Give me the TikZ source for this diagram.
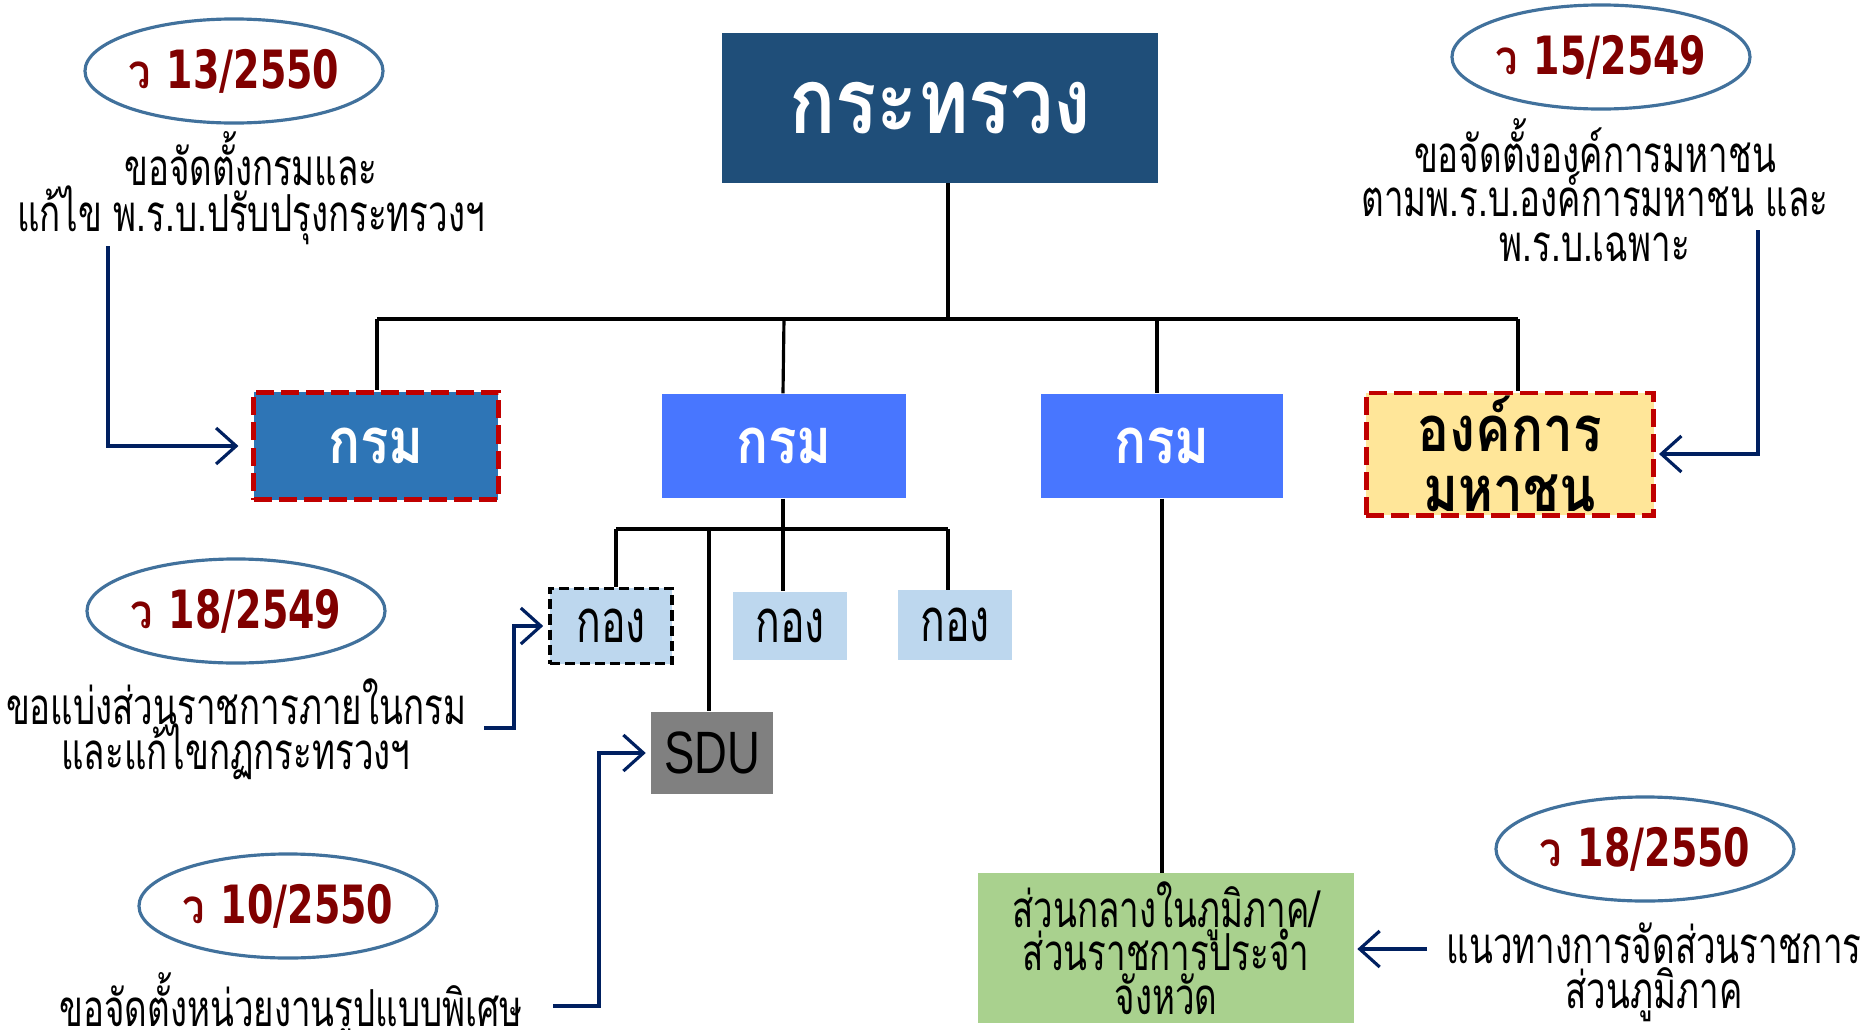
\documentclass[tikz,border=0pt]{standalone}
\usepackage{fontspec}
\usetikzlibrary{arrows.meta,shapes.geometric}
\newfontfamily\thaigras[Script=Thai,FakeStretch=0.84]{Loma}
\newfontfamily\thaicond[Script=Thai,FakeStretch=0.685]{Loma}
\newfontfamily\chiffres[FakeStretch=0.72]{DejaVu Sans}
\newfontfamily\etroit[FakeStretch=0.76]{Liberation Sans}
\definecolor{bleuMin}{RGB}{31,78,121}
\definecolor{bleuGris}{RGB}{46,117,182}
\definecolor{bleuVif}{RGB}{72,118,255}
\definecolor{jaune}{RGB}{255,230,153}
\definecolor{rougeT}{RGB}{192,0,0}
\definecolor{bleuPale}{RGB}{189,215,238}
\definecolor{vert}{RGB}{169,209,142}
\definecolor{gris}{RGB}{128,128,128}
\definecolor{bordOvale}{RGB}{65,113,156}
\definecolor{rougeFonce}{RGB}{128,0,0}
\definecolor{marine}{RGB}{0,32,96}
\newcommand{\circulaire}[1]{{\thaigras\bfseries\fontsize{13.5}{15}\selectfont ว} {\chiffres\bfseries #1}}
\begin{document}
\begin{tikzpicture}[x=0.01cm,y=-0.01cm]
\tikzset{boite/.style={rectangle, inner sep=0pt, align=center, text=white, font={\thaigras\bfseries\fontsize{18}{17}\selectfont\lineskiplimit=-50pt}},
	pointille/.style={draw=rougeT, line width=1.4pt, dash pattern=on 1.8mm off 0.7mm},
	kong/.style={rectangle, fill=bleuPale, inner sep=0pt, font={\thaicond\fontsize{17}{18}\selectfont}},
	ovale/.style={ellipse, draw=bordOvale, line width=0.9pt, minimum width=2.56cm, minimum height=1.04cm, inner sep=0pt, text=rougeFonce, font={\fontsize{15}{16}\selectfont}},
	texte/.style={align=center, inner sep=0pt, font={\thaicond\fontsize{14.5}{12.7}\selectfont\lineskiplimit=-50pt}},
	trait/.style={line width=0.9pt},
	fleche/.style={draw=marine, line width=0.9pt, -{Straight Barb[length=2mm,width=3.6mm]}}};
\useasboundingbox (0,0) rectangle (1865,1030);

% boites
\node[boite, fill=bleuMin, minimum width=4.35cm, minimum height=1.49cm, font={\thaigras\bfseries\fontsize{26}{30}\selectfont}] (min) at (940,108) {กระทรวง};
\node[boite, fill=bleuGris, pointille, minimum width=2.44cm, minimum height=1.07cm] (k1) at (376,446) {กรม};
\node[boite, fill=bleuVif, minimum width=2.44cm, minimum height=1.04cm] (k2) at (784,446) {กรม};
\node[boite, fill=bleuVif, minimum width=2.42cm, minimum height=1.04cm] (k3) at (1162,446) {กรม};
\node[boite, fill=jaune, pointille, text=black, minimum width=2.87cm, minimum height=1.22cm] (org) at (1510,454) {องค์การ\\มหาชน};
\node[kong, draw=black, line width=1pt, dash pattern=on 1mm off 0.5mm, minimum width=1.22cm, minimum height=0.75cm] (g1) at (611,626) {กอง};
\node[kong, minimum width=1.13cm, minimum height=0.68cm] (g2) at (790,626) {กอง};
\node[kong, minimum width=1.14cm, minimum height=0.69cm] (g3) at (955,625) {กอง};
\node[rectangle, fill=gris, minimum width=1.21cm, minimum height=0.82cm, font={\etroit\fontsize{17}{20}\selectfont}] (sdu) at (712,753) {SDU};
\node[rectangle, fill=vert, minimum width=3.75cm, minimum height=1.49cm, align=center, inner sep=0pt, font={\thaicond\fontsize{14.5}{12.4}\selectfont\lineskiplimit=-50pt}] (reg) at (1166,948) {ส่วนกลางในภูมิภาค/\\ส่วนราชการประจำ\\จังหวัด};

% ovales et textes
\node[ovale] (v1) at (234,71) {\circulaire{13/2550}};
\node[texte, font={\thaicond\fontsize{14.5}{13.2}\selectfont\lineskiplimit=-50pt}] (t1) at (251,188) {ขอจัดตั้งกรมและ\\แก้ไข พ.ร.บ.ปรับปรุงกระทรวงฯ};
\node[ovale] (v2) at (1601,57) {\circulaire{15/2549}};
\node[texte] (t2) at (1595,190) {ขอจัดตั้งองค์การมหาชน\\ตามพ.ร.บ.องค์การมหาชน และ\\พ.ร.บ.เฉพาะ};
\node[ovale] (v3) at (236,611) {\circulaire{18/2549}};
\node[texte] (t3) at (236,729) {ขอแบ่งส่วนราชการภายในกรม\\และแก้ไขกฏกระทรวงฯ};
\node[ovale] (v4) at (288,906) {\circulaire{10/2550}};
\node[texte] (t4) at (291,1006) {ขอจัดตั้งหน่วยงานรูปแบบพิเศษ};
\node[ovale] (v5) at (1645,849) {\circulaire{18/2550}};
\node[texte] (t5) at (1654,972) {แนวทางการจัดส่วนราชการ\\ส่วนภูมิภาค};

% organigramme
\coordinate (b0) at (948,319);
\coordinate (bL) at (377,319);
\coordinate (bR) at (1518,319);
\coordinate (b3) at (1157,319);
\coordinate (s0) at (783,529);
\coordinate (sL) at (616,529);
\coordinate (sR) at (948,529);
\coordinate (sS) at (709,529);
\draw[trait] (min.south -| b0) -- (b0);
\draw[trait] (bL) -- (bR);
\draw[trait] (bL) -- (k1.north -| bL);
\draw[trait] (k2.north -| s0) -- (k2.north |- bL);
\draw[trait] (b3) -- (k3.north -| b3);
\draw[trait] (bR) -- (org.north -| bR);
\draw[trait] (k2.south -| s0) -- (s0);
\draw[trait] (sL) -- (sR);
\draw[trait] (sL) -- (g1.north -| sL);
\draw[trait] (sS) -- (sdu.north -| sS);
\draw[trait] (s0) -- (g2.north -| s0);
\draw[trait] (sR) -- (g3.north -| sR);
\draw[trait] (k3.south) -- (reg.north -| k3.south);

% fleches
\coordinate (p1) at (108,246);
\coordinate (p2) at (1758,230);
\coordinate (p3) at (484,728);
\coordinate (p4) at (553,1006);
\coordinate (p5) at (1427,949);
\draw[fleche, shorten >=0.13cm] (p1) |- (k1.west);
\draw[fleche, shorten >=0.03cm] (p2) |- (org.east);
\draw[fleche, shorten >=0.05cm] (p3) -- (514,728) |- (g1.west);
\draw[fleche, shorten >=0.05cm] (p4) -- (599,1006) |- (sdu.west);
\draw[fleche, shorten >=0.03cm] (p5) -- (reg.east |- p5);
\end{tikzpicture}
\end{document}
